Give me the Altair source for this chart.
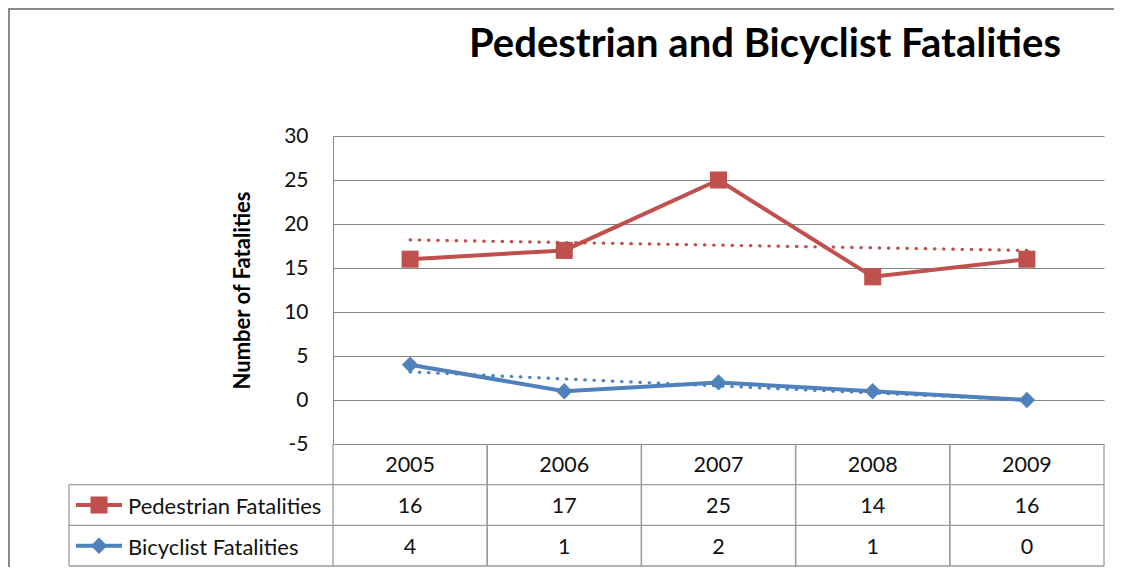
import altair as alt
import pandas as pd

# ---- data ----
years = ["2005", "2006", "2007", "2008", "2009"]
series_names = ["Pedestrian Fatalities", "Bicyclist Fatalities"]
pedestrian = [16, 17, 25, 14, 16]
bicyclist = [4, 1, 2, 1, 0]
series_colors = ["#C0504D", "#4F81BD"]
series_shapes = ["square", "diamond"]
y_ticks = [-5, 0, 5, 10, 15, 20, 25, 30]
chart_title = "Pedestrian and Bicyclist Fatalities"
y_title = "Number of Fatalities"

# long-form table built from the arrays
rows = []
for name, vals in zip(series_names, [pedestrian, bicyclist]):
    for yr, v in zip(years, vals):
        rows.append({"year": yr, "yr": int(yr), "series": name, "value": v})
df = pd.DataFrame(rows)
df_years = pd.DataFrame({"year": years, "row": ["year"] * len(years)})
df_series = pd.DataFrame({"series": series_names})

FONT = "Lato"
GRID = "#868686"
TABLE = "#9C9C9C"
W, H_PLOT, H_ALL = 771, 308, 430
TOP_PAD, RIGHT_PAD, BOTTOM_PAD = 128, 10, 1
row_domain = ["year"] + series_names

band_x = alt.Scale(type="band", paddingInner=0, paddingOuter=0)
x_enc = alt.X("year:O", scale=band_x, axis=None)
color_enc = alt.Color("series:N", scale=alt.Scale(domain=series_names, range=series_colors), legend=None)
shape_enc = alt.Shape("series:N", scale=alt.Scale(domain=series_names, range=series_shapes), legend=None)
size_enc = alt.Size("series:N", scale=alt.Scale(domain=series_names, range=[290, 270]), legend=None)

y_val = alt.Y(
    "value:Q",
    scale=alt.Scale(domain=[-5, 30], range=[H_PLOT, 0], nice=False, zero=False),
    axis=alt.Axis(
        values=y_ticks, grid=True, gridColor=GRID, gridWidth=1,
        domain=True, domainColor=GRID, domainWidth=1, ticks=False,
        labelFont=FONT, labelFontSize=21, labelColor="#111", labelPadding=25,
        labelExpr="toString(datum.value)",
        title=y_title, titleFont=FONT, titleFontSize=22, titleFontWeight="bold",
        titleColor="#000", titlePadding=29,
    ),
)

base = alt.Chart(df)

trend = (
    base.transform_regression("yr", "value", groupby=["series"])
    .transform_calculate(year="toString(datum.yr)")
    .mark_line(strokeWidth=3.2, strokeDash=[0.5, 8.7], strokeCap="round")
    .encode(x=x_enc, y=y_val, color=color_enc, detail="series:N")
)
lines = base.mark_line(strokeWidth=4).encode(x=x_enc, y=y_val, color=color_enc, detail="series:N")
points = base.mark_point(filled=True, opacity=1).encode(
    x=x_enc, y=y_val, color=color_enc, shape=shape_enc, size=size_enc
)
data_layers = alt.layer(trend, lines, points)

# ---- data table below the plot ----
y_row_scale = alt.Scale(type="band", domain=row_domain, range=[H_PLOT, H_ALL], paddingInner=0, paddingOuter=0)

def y_row(bp=0.5):
    return alt.Y("row:N", scale=y_row_scale, axis=None, bandPosition=bp)

df_vals = df.assign(row=df["series"], label=df["value"].astype(str))
rule_style = dict(color=TABLE, strokeWidth=1.3)
TXT = dict(font=FONT, fontSize=21.5, color="#111", baseline="middle", dy=2)

h_rules_top = alt.Chart(pd.DataFrame({"row": series_names})).mark_rule(**rule_style).encode(
    y=y_row(0), x=alt.value(-264), x2=alt.value(W)
)
h_rule_bottom = alt.Chart(pd.DataFrame({"row": series_names[-1:]})).mark_rule(**rule_style).encode(
    y=y_row(1), x=alt.value(-264), x2=alt.value(W)
)
v_rules_left = alt.Chart(df_years).mark_rule(**rule_style).encode(
    x=alt.X("year:O", scale=band_x, axis=None, bandPosition=0),
    y=alt.value(H_PLOT), y2=alt.value(H_ALL),
)
v_rules_right = alt.Chart(df_years).mark_rule(**rule_style).encode(
    x=alt.X("year:O", scale=band_x, axis=None, bandPosition=1),
    y=alt.value(H_PLOT), y2=alt.value(H_ALL),
)
left_border = alt.Chart(pd.DataFrame({"row": [series_names[0]]})).mark_rule(**rule_style).encode(
    x=alt.value(-264), y=y_row(0), y2=alt.value(H_ALL)
)
year_text = alt.Chart(df_years).mark_text(**TXT).encode(x=x_enc, y=y_row(), text="year:N")
val_text = alt.Chart(df_vals).mark_text(**TXT).encode(x=x_enc, y=y_row(), text="label:N")

df_leg = df_series.assign(row=df_series["series"])
leg_line = alt.Chart(df_leg).mark_rule(strokeWidth=4).encode(
    x=alt.value(-257), x2=alt.value(-211), y=y_row(), color=color_enc
)
leg_point = alt.Chart(df_leg).mark_point(filled=True, opacity=1).encode(
    x=alt.value(-234), y=y_row(), color=color_enc, shape=shape_enc, size=size_enc
)
leg_text = alt.Chart(df_leg).mark_text(
    font=FONT, fontSize=22, color="#111", align="left", baseline="middle", dy=2
).encode(x=alt.value(-205), y=y_row(), text="series:N")

table_layers = alt.layer(
    h_rules_top, h_rule_bottom, v_rules_left, v_rules_right, left_border,
    year_text, val_text, leg_line, leg_point, leg_text,
)

# ---- outer frame (left and top edges, kept inside the SVG) and title ----
frame_df = pd.DataFrame({"k": [0]})
frame_top = alt.Chart(frame_df).mark_rule(color="#8A8A8A", strokeWidth=2).encode(
    x=alt.value(-325), x2=alt.value(W + RIGHT_PAD), y=alt.value(-TOP_PAD + 1)
)
frame_left = alt.Chart(frame_df).mark_rule(color="#8A8A8A", strokeWidth=2).encode(
    x=alt.value(-324), y=alt.value(-TOP_PAD), y2=alt.value(H_ALL + BOTTOM_PAD)
)
title = alt.Chart(pd.DataFrame({"t": [chart_title]})).mark_text(
    font=FONT, fontSize=40, fontWeight="bold", color="#000", align="center", baseline="alphabetic"
).encode(x=alt.value(432), y=alt.value(-TOP_PAD + 49), text="t:N")

chart = (
    alt.layer(frame_top, frame_left, title, data_layers, table_layers)
    .resolve_scale(y="independent")
    .properties(
        width=W, height=H_ALL, autosize="none",
        padding={"left": 325, "top": TOP_PAD, "right": RIGHT_PAD, "bottom": BOTTOM_PAD},
        background="white",
    )
    .configure_view(strokeWidth=0)
)

chart.save("out.html", embed_options={"renderer": "svg", "actions": False})
